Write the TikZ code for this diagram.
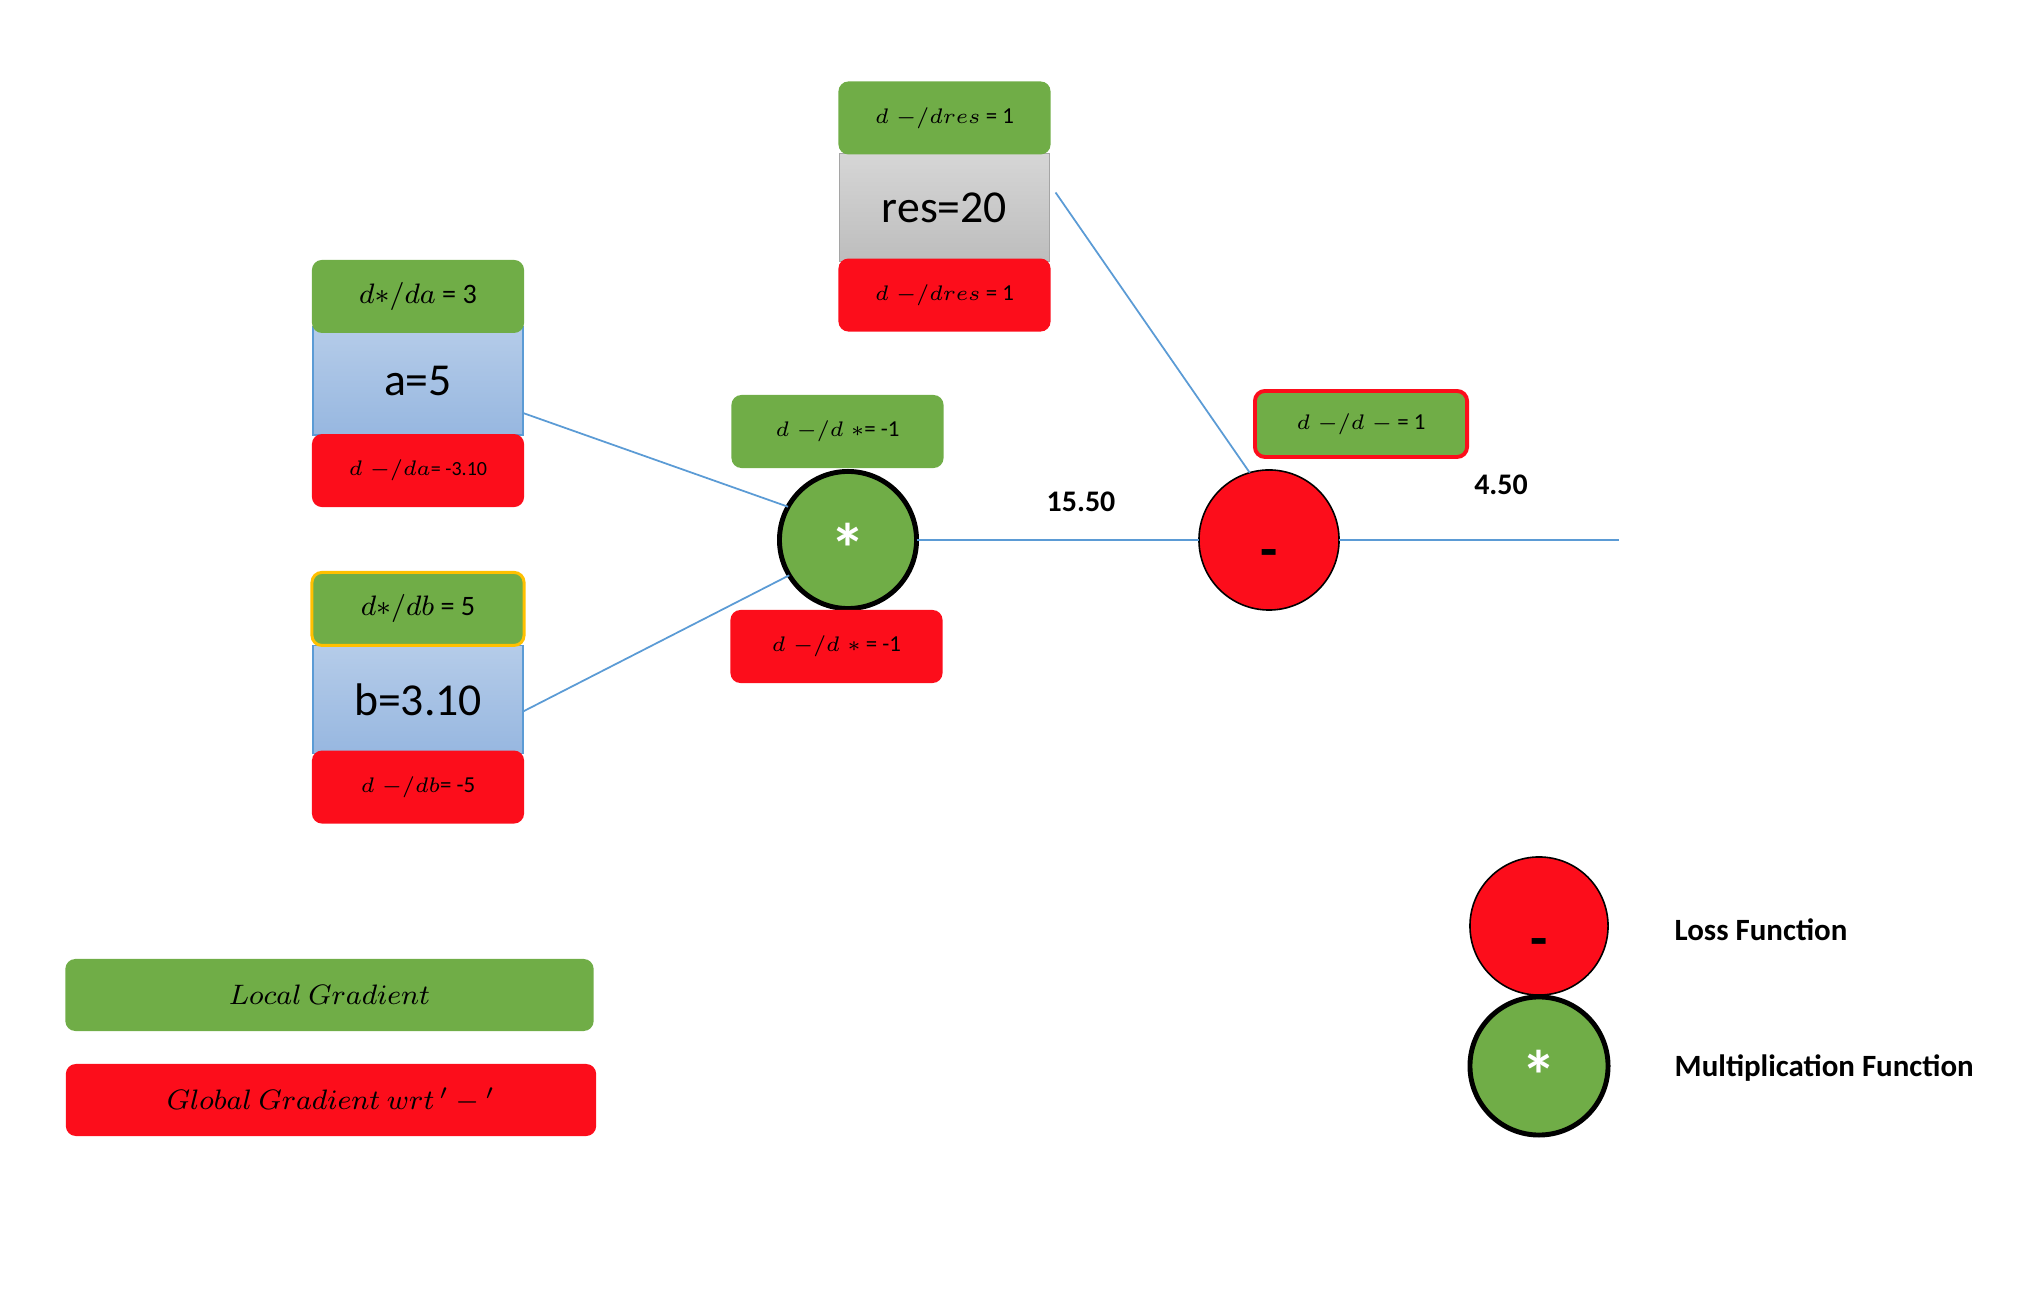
\documentclass[tikz,border=0pt]{standalone}
\usepackage{fontspec}
\setmainfont{Carlito}
\usetikzlibrary{positioning,calc}
\definecolor{gradgreen}{HTML}{70AD47}
\definecolor{gradred}{HTML}{FC0D1B}
\definecolor{wireblue}{HTML}{5B9BD5}
\definecolor{valtop}{HTML}{B5CCE9}
\definecolor{valbot}{HTML}{97B7E0}
\definecolor{restop}{HTML}{D6D6D6}
\definecolor{resbot}{HTML}{BDBDBD}
\definecolor{resedge}{HTML}{A5A5A5}
\definecolor{hiorange}{HTML}{FFC000}

\tikzset{
  gradbox/.style={rectangle, rounded corners=0.1cm, inner sep=0pt, outer sep=0pt,
    minimum width=2.12cm, minimum height=0.73cm, font=\fontsize{6.5}{7}\selectfont},
  localgrad/.style={gradbox, fill=gradgreen},
  globalgrad/.style={gradbox, fill=gradred},
  biglabel/.style={font=\fontsize{8}{9}\selectfont},
  valbox/.style={rectangle, inner sep=0pt, outer sep=0pt, minimum width=2.1cm,
    minimum height=1.08cm, draw=wireblue, line width=0.5pt,
    top color=valtop, bottom color=valbot, font=\fontsize{13}{15}\selectfont},
  opnode/.style={circle, inner sep=0pt, outer sep=0pt, draw=black},
  mulop/.style={opnode, fill=gradgreen, line width=1.4pt, minimum size=1.37cm,
    text=white, font=\bfseries\fontsize{20}{20}\selectfont, text height=18.8pt, text depth=0pt},
  lossop/.style={opnode, fill=gradred, line width=0.45pt, minimum size=1.4cm,
    font=\bfseries\fontsize{16}{16}\selectfont, text height=16.2pt, text depth=0pt},
  wire/.style={wireblue, line width=0.5pt},
  numlabel/.style={font=\bfseries\fontsize{8.5}{10}\selectfont},
  keybox/.style={gradbox, minimum width=5.28cm, minimum height=0.72cm, font=\fontsize{8.5}{10}\selectfont},
  keytext/.style={anchor=west, inner sep=0pt, font=\bfseries\fontsize{8.8}{10}\selectfont},
}

\begin{document}
\begin{tikzpicture}[x=0.01cm, y=-0.01cm]
  \useasboundingbox (0,0) rectangle (2018,1304);
  % inputs
  \node[valbox] (a) at (418,381) {a=5};
  \node[localgrad, biglabel, above=-0.06cm of a] (al) {$d{*}/da$ = 3};
  \node[globalgrad, font=\fontsize{5.7}{6}\selectfont, below=-0.01cm of a] (ag) {$d\;{-}/da$= -3.10};
  \node[valbox] (b) at (418,699.5) {b=3.10};
  \node[localgrad, biglabel, draw=hiorange, line width=0.85pt, above=0cm of b] (bl) {$d{*}/db$ = 5};
  \node[globalgrad, below=-0.03cm of b] (bg) {$d\;{-}/db$= -5};
  % target
  \node[valbox, draw=resedge, top color=restop, bottom color=resbot] (res) at (944.5,207.5) {res=20};
  \node[localgrad, above=-0.01cm of res] (resl) {$d\;{-}/dres$ = 1};
  \node[globalgrad, below=-0.03cm of res] (resg) {$d\;{-}/dres$ = 1};
  % operations
  \node[mulop] (mul) at (848,540) {*};
  \node[localgrad] (mull) at (837.5,431.5) {$d\;{-}/d\;{*}$= -1};
  \node[globalgrad] (mulg) at (836.5,646.5) {$d\;{-}/d\;{*}$ = -1};
  \node[lossop] (loss) at (1269,540) {-};
  \node[localgrad, draw=gradred, line width=1.1pt, minimum height=0.66cm] (lossl) at (1361,424) {$d\;{-}/d\;{-}$ = 1};
  \coordinate (out) at (1619,540);
  % wires
  \draw[wire] ([yshift=-0.32cm]a.east) -- (mul.151);
  \draw[wire] ([yshift=-0.12cm]b.east) -- (mul.211);
  \draw[wire] ([xshift=0.06cm,yshift=0.15cm]res.east) -- (loss.106);
  \draw[wire] (mul.east) -- (loss.west);
  \draw[wire] (loss.east) -- (out);
  \node[numlabel] (vmul) at (1081,502) {15.50};
  \node[numlabel] (vloss) at (1501,485) {4.50};
  % key
  \node[keybox, fill=gradgreen] (keyl) at (329.5,995) {$Local\ Gradient$};
  \node[keybox, fill=gradred, minimum width=5.3cm] (keyg) at (331,1100) {$Global\ Gradient\ wrt\,{}'-{}'$};
  \node[lossop, minimum size=1.38cm, text height=17.7pt] (keyloss) at (1539,926) {-};
  \node[mulop, minimum size=1.38cm, text height=19.9pt] (keymul) at (1539,1066) {*};
  \node[keytext] (keylosst) at (1674,930) {Loss Function};
  \node[keytext] (keymult) at (1674,1068) {Multiplication Function};
\end{tikzpicture}
\end{document}
